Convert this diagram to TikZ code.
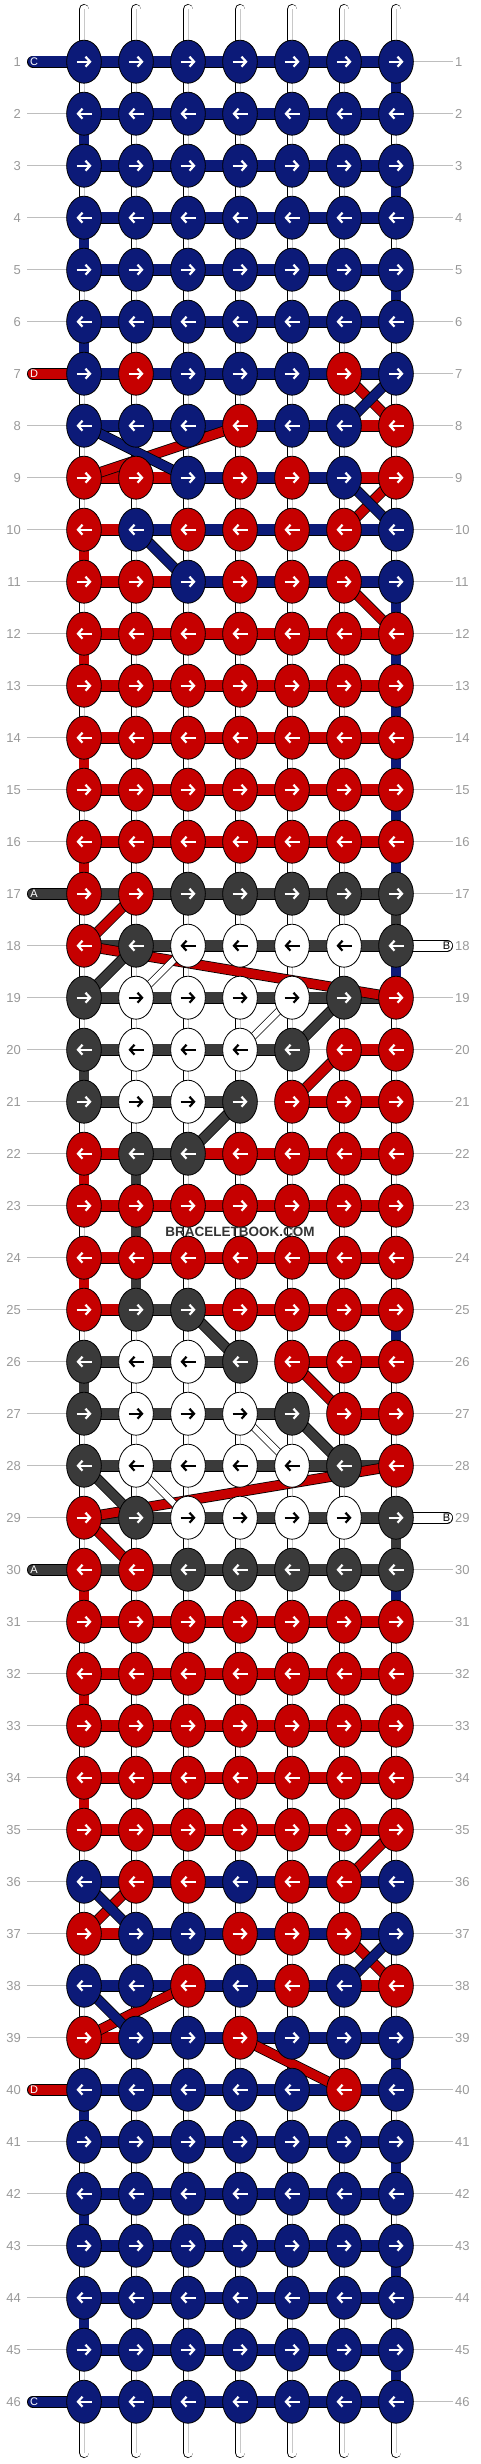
\documentclass[tikz,border=0pt]{standalone}
\usepackage{fontspec}
\setmainfont{Liberation Sans}
\usepackage{tikz}
\usetikzlibrary{shapes.geometric,arrows.meta}
\definecolor{b}{HTML}{0C1A78}
\definecolor{r}{HTML}{C60000}
\definecolor{g}{HTML}{3A3A3A}
\definecolor{w}{HTML}{FFFFFF}
\definecolor{labelgrey}{HTML}{999999}
\definecolor{rulegrey}{HTML}{BEBEBE}
\definecolor{coregrey}{HTML}{C8C8C8}
\definecolor{brandgrey}{HTML}{333333}
\pgfdeclarelayer{tubes}
\pgfdeclarelayer{bars}
\pgfdeclarelayer{diags}
\pgfsetlayers{tubes,bars,diags,main}
\tikzset{
  knot/.style     = {ellipse, draw=black, line width=0.8pt, fill=#1, minimum width=34.7pt, minimum height=43pt, inner sep=0pt},
  goright/.style  = {line width=2.2pt, -{Straight Barb[length=4.5pt,width=10pt]}},
  goleft/.style   = {line width=2.2pt, {Straight Barb[length=4.5pt,width=10pt]}-},
  hbar/.style     = {draw=black, line width=0.8pt, double=#1, double distance=10.6pt},
  vseg/.style     = {draw=black, line width=0.8pt, double=#1, double distance=9.2pt},
  diag/.style     = {draw=black, line width=0.8pt, double=#1, double distance=9pt},
  thindiag/.style = {draw=black, line width=0.7pt, double=w, double distance=6pt},
  tube/.style     = {draw=black, line width=0.8pt, double=white, double distance=9pt, line cap=round},
  tubecore/.style = {coregrey, line width=0.8pt},
  tagbar/.style   = {draw=black, line width=0.8pt, double=#1, double distance=10.4pt, line cap=round},
  taglbl/.style   = {font=\fontsize{11}{11}\selectfont, inner sep=0pt},
  rowline/.style  = {rulegrey, line width=0.8pt},
  rowlbl/.style   = {labelgrey, font=\fontsize{13}{13}\selectfont, inner sep=0pt},
  brand/.style    = {brandgrey, font=\bfseries\fontsize{13.5}{14}\selectfont, inner sep=0pt},
}

\begin{document}
\begin{tikzpicture}[x=1pt,y=-1pt]
\useasboundingbox (0,0) rectangle (480,2464);

% row guides and numbers
\foreach \row in {1,...,46}{
  \coordinate (ra-\row) at (27,{9.7+52*\row});
  \coordinate (rb-\row) at (453,{9.7+52*\row});
  \node[rowlbl, anchor=east] (nl-\row) at (21,{9.7+52*\row}) {\row};
  \node[rowlbl, anchor=west] (nr-\row) at (455,{9.7+52*\row}) {\row};
  \begin{pgfonlayer}{tubes}
    \draw[rowline] (ra-\row) -- (rb-\row);
  \end{pgfonlayer}
}

% base strings
\foreach \i in {1,...,7}{
  \coordinate (top-\i) at ({32+52*\i},9.3);
  \coordinate (bot-\i) at ({32+52*\i},2452.7);
  \begin{pgfonlayer}{tubes}
    \draw[tube] (top-\i) -- (bot-\i);
    \draw[tubecore] (top-\i) -- (bot-\i);
  \end{pgfonlayer}
}

% knots (row / knot colours / bar colours)
\foreach \row/\ks/\bs in {
  1/{b,b,b,b,b,b,b}/{b,b,b,b,b,b},
  2/{b,b,b,b,b,b,b}/{b,b,b,b,b,b},
  3/{b,b,b,b,b,b,b}/{b,b,b,b,b,b},
  4/{b,b,b,b,b,b,b}/{b,b,b,b,b,b},
  5/{b,b,b,b,b,b,b}/{b,b,b,b,b,b},
  6/{b,b,b,b,b,b,b}/{b,b,b,b,b,b},
  7/{b,r,b,b,b,r,b}/{b,b,b,b,b,b},
  8/{b,b,b,r,b,b,r}/{b,b,b,b,b,r},
  9/{r,r,b,r,r,b,r}/{r,r,b,b,b,r},
  10/{r,b,r,r,r,r,b}/{r,b,b,b,b,b},
  11/{r,r,b,r,r,r,b}/{r,r,b,b,b,b},
  12/{r,r,r,r,r,r,r}/{r,r,r,r,r,r},
  13/{r,r,r,r,r,r,r}/{r,r,r,r,r,r},
  14/{r,r,r,r,r,r,r}/{r,r,r,r,r,r},
  15/{r,r,r,r,r,r,r}/{r,r,r,r,r,r},
  16/{r,r,r,r,r,r,r}/{r,r,r,r,r,r},
  17/{r,r,g,g,g,g,g}/{g,g,g,g,g,g},
  18/{r,g,w,w,w,w,g}/{g,g,g,g,g,g},
  19/{g,w,w,w,w,g,r}/{g,g,g,g,g,g},
  20/{g,w,w,w,g,r,r}/{g,g,g,g,n,r},
  21/{g,w,w,g,r,r,r}/{g,g,g,n,r,r},
  22/{r,g,g,r,r,r,r}/{r,g,r,r,r,r},
  23/{r,r,r,r,r,r,r}/{r,r,r,r,r,r},
  24/{r,r,r,r,r,r,r}/{r,r,r,r,r,r},
  25/{r,g,g,r,r,r,r}/{r,g,r,r,r,r},
  26/{g,w,w,g,r,r,r}/{g,g,g,n,r,r},
  27/{g,w,w,w,g,r,r}/{g,g,g,g,n,r},
  28/{g,w,w,w,w,g,r}/{g,g,g,g,g,g},
  29/{r,g,w,w,w,w,g}/{g,g,g,g,g,g},
  30/{r,r,g,g,g,g,g}/{g,g,g,g,g,g},
  31/{r,r,r,r,r,r,r}/{r,r,r,r,r,r},
  32/{r,r,r,r,r,r,r}/{r,r,r,r,r,r},
  33/{r,r,r,r,r,r,r}/{r,r,r,r,r,r},
  34/{r,r,r,r,r,r,r}/{r,r,r,r,r,r},
  35/{r,r,r,r,r,r,r}/{r,r,r,r,r,r},
  36/{b,r,r,b,r,r,b}/{b,b,b,b,b,b},
  37/{r,b,b,r,r,r,b}/{r,b,b,b,b,b},
  38/{b,b,r,b,r,b,r}/{b,b,b,b,b,r},
  39/{r,b,b,r,b,b,b}/{r,b,b,b,b,b},
  40/{b,b,b,b,b,r,b}/{b,b,b,b,b,b},
  41/{b,b,b,b,b,b,b}/{b,b,b,b,b,b},
  42/{b,b,b,b,b,b,b}/{b,b,b,b,b,b},
  43/{b,b,b,b,b,b,b}/{b,b,b,b,b,b},
  44/{b,b,b,b,b,b,b}/{b,b,b,b,b,b},
  45/{b,b,b,b,b,b,b}/{b,b,b,b,b,b},
  46/{b,b,b,b,b,b,b}/{b,b,b,b,b,b}}{
  \foreach \kc [count=\i] in \ks {
    \node[knot=\kc] (k-\row-\i) at ({32+52*\i},{9.7+52*\row}) {};
    \def\ink{white}\if w\kc\def\ink{black}\fi
    \ifodd\row\relax
      \draw[goright, draw=\ink] ([xshift=-7.5pt]k-\row-\i.center) -- ([xshift=7.5pt]k-\row-\i.center);
    \else
      \draw[goleft, draw=\ink] ([xshift=-7.5pt]k-\row-\i.center) -- ([xshift=7.5pt]k-\row-\i.center);
    \fi
  }
  \begin{pgfonlayer}{bars}
  \foreach \kc [count=\i] in \bs {
    \pgfmathtruncatemacro\j{\i+1}
    \if n\kc\else\draw[hbar=\kc] (k-\row-\i.center) -- (k-\row-\j.center);\fi
  }
  \end{pgfonlayer}
}

% threads turning at the edges
\begin{pgfonlayer}{bars}
\foreach \row/\cl/\kc in {1/7/b,3/7/b,5/7/b,17/7/g,29/7/g,39/7/b,41/7/b,43/7/b,45/7/b,
    2/1/b,4/1/b,6/1/b,40/1/b,42/1/b,44/1/b,
    10/1/r,12/1/r,14/1/r,16/1/r,22/1/r,24/1/r,30/1/r,32/1/r,34/1/r,
    20/1/g,26/1/g,22/2/g,23/2/g,24/2/g}{
  \pgfmathtruncatemacro\nxt{\row+1}
  \draw[vseg=\kc] (k-\row-\cl.center) -- (k-\nxt-\cl.center);
}
\foreach \row in {11,...,16,18,...,28,30,...,35}{
  \pgfmathtruncatemacro\nxt{\row+1}
  \draw[vseg=b] (k-\row-7.center) -- (k-\nxt-7.center);
}
\end{pgfonlayer}

% threads moving between knots
\begin{pgfonlayer}{diags}
\foreach \src/\dst/\kc in {7-6/8-7/r, 8-4/9-1/r, 9-7/10-6/r, 11-6/12-7/r, 17-2/18-1/r,
    18-1/19-7/r, 20-6/21-5/r, 26-5/27-6/r, 28-7/29-1/r, 29-1/30-2/r, 35-7/36-6/r,
    36-2/37-1/r, 37-6/38-7/r, 38-3/39-1/r, 39-4/40-6/r,
    7-7/8-6/b, 8-1/9-3/b, 9-6/10-7/b, 10-2/11-3/b, 36-1/37-2/b, 37-7/38-6/b, 38-1/39-2/b,
    18-2/19-1/g, 19-6/20-5/g, 21-4/22-3/g, 25-3/26-4/g, 27-5/28-6/g, 28-1/29-2/g}
  \draw[diag=\kc] (k-\src.center) -- (k-\dst.center);
\foreach \src/\dst in {18-3/19-2, 19-5/20-4, 27-4/28-5, 28-2/29-3}
  \draw[thindiag] (k-\src.center) -- (k-\dst.center);
\end{pgfonlayer}

% thread ends
\foreach \row/\tagname/\kc/\ink in {1/C/b/white, 7/D/r/white, 17/A/g/white, 30/A/g/white, 40/D/r/white, 46/C/b/white}{
  \coordinate (tag-\row) at (33,{9.7+52*\row});
  \begin{pgfonlayer}{bars}
    \draw[tagbar=\kc] (tag-\row) -- (k-\row-1.center);
  \end{pgfonlayer}
  \node[taglbl, text=\ink] (tl-\row) at (34,{9.7+52*\row}) {\tagname};
}
\foreach \row in {18,29}{
  \coordinate (tag-\row) at (447,{9.7+52*\row});
  \begin{pgfonlayer}{bars}
    \draw[tagbar=w] (k-\row-7.center) -- (tag-\row);
  \end{pgfonlayer}
  \node[taglbl, text=black] (tl-\row) at (446.5,{9.7+52*\row}) {B};
}

\node[brand] (brand) at (240,1231.7) {BRACELETBOOK.COM};
\end{tikzpicture}
\end{document}
